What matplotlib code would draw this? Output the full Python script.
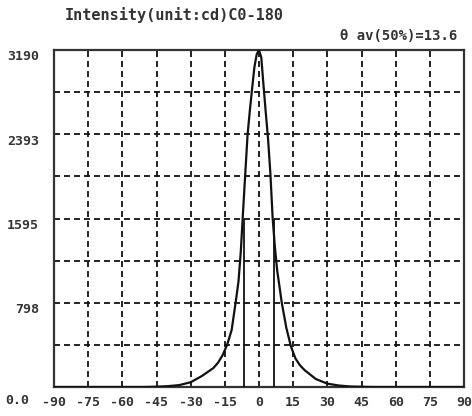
import matplotlib
matplotlib.use("Agg")
import matplotlib.pyplot as plt

# ---- data ----
angles = [-90, -80, -70, -60, -50, -45, -40, -35, -30, -25, -20, -18, -16, -14, -12,
          -10, -9, -8, -7, -6, -5, -4, -3, -2, -1, 0, 1, 2, 3, 4, 5, 6, 7, 8, 9, 10,
          12, 14, 16, 18, 20, 25, 30, 35, 40, 45, 50, 60, 70, 80, 90]
intensity = [0, 0, 0, 0, 0, 3, 8, 18, 45, 105, 180, 230, 300, 399, 540,
             840, 1000, 1280, 1660, 2030, 2393, 2620, 2830, 3030, 3150, 3190, 3120, 2850, 2590, 2340, 2020, 1595, 1320, 1100, 950, 797,
             560, 385, 270, 205, 160, 75, 32, 14, 5, 2, 0, 0, 0, 0, 0]
half_angles = [-6.8, 6.8]
half_value = 1595
x_ticks = [-90, -75, -60, -45, -30, -15, 0, 15, 30, 45, 60, 75, 90]
y_grid = [0, 398.75, 797.5, 1196.25, 1595, 1993.75, 2392.5, 2791.25, 3190]
y_labels = ["0.0", "798", "1595", "2393", "3190"]
y_label_vals = [0, 797.5, 1595, 2392.5, 3190]
title = "Intensity(unit:cd)C0-180"
subtitle = "θ av(50%)=13.6"

plt.rcParams['lines.scale_dashes'] = False
W, H = 472, 416
fig = plt.figure(figsize=(W / 100, H / 100), dpi=100)
ax = fig.add_axes([54 / W, 29 / H, 410 / W, 337 / H])
ax.set_xlim(-90, 90)
ax.set_ylim(0, 3190)

dash = (0, (4.3, 2.9))
for xv in x_ticks[1:-1]:
    ax.axvline(xv, color='#111111', lw=1.3, linestyle=dash, zorder=1)
for yv in y_grid[1:-1]:
    ax.axhline(yv, color='#111111', lw=1.3, linestyle=dash, zorder=1)

ax.plot(angles, intensity, color='#111111', lw=1.6, zorder=3)
ax.vlines(half_angles, 0, half_value, color='#111111', lw=1.3, zorder=3)

ax.set_xticks([])
ax.set_yticks([])
for s in ax.spines.values():
    s.set_linewidth(1.6)
    s.set_color('#333333')

font = dict(family='DejaVu Sans Mono', fontweight='bold', color='#333333')
# x tick labels
for xv in x_ticks:
    ax.annotate(str(xv), xy=(xv, 0), xycoords=('data', 'axes fraction'),
                xytext=(0, -16), textcoords='offset pixels', ha='center', va='center',
                fontsize=9.5, **font)
# y tick labels
for lab, yv in zip(y_labels, y_label_vals):
    if lab == "0.0":
        ax.annotate(lab, xy=(0, yv), xycoords=('axes fraction', 'data'),
                    xytext=(-49, -13), textcoords='offset pixels', ha='left', va='center',
                    fontsize=9.5, **font)
    else:
        ax.annotate(lab, xy=(0, yv), xycoords=('axes fraction', 'data'),
                    xytext=(-15, -7), textcoords='offset pixels', ha='right', va='center',
                    fontsize=9.5, **font)

fig.text(65 / W, 1 - 15 / H, title, ha='left', va='center', fontsize=11, **font)
fig.text(457 / W, 1 - 36 / H, subtitle, ha='right', va='center', fontsize=10, **font)

fig.savefig('out.png', dpi=100)
